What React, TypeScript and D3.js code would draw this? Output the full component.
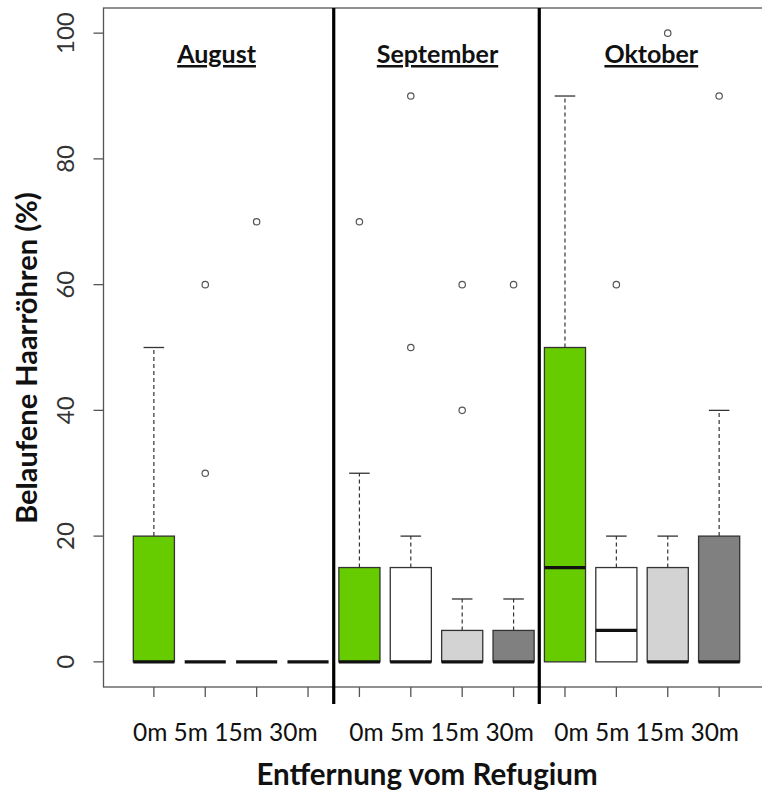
import React, { useEffect, useRef } from "react";
import * as d3 from "d3";

// groups and categories
const months = ["August", "September", "Oktober"];
const distances = ["0m", "5m", "15m", "30m"];
const boxFills = ["#66CC00", "#FFFFFF", "#D3D3D3", "#808080"];

// box statistics, 12 boxes in order Aug 0m..30m, Sep 0m..30m, Okt 0m..30m
const lowerQuartile = [0, 0, 0, 0, 0, 0, 0, 0, 0, 0, 0, 0];
const medians = [0, 0, 0, 0, 0, 0, 0, 0, 15, 5, 0, 0];
const upperQuartile = [20, 0, 0, 0, 15, 15, 5, 5, 50, 15, 15, 20];
const lowerWhisker = [0, 0, 0, 0, 0, 0, 0, 0, 0, 0, 0, 0];
const upperWhisker = [50, 0, 0, 0, 30, 20, 10, 10, 90, 20, 20, 40];
const outliers: number[][] = [
  [], [30, 60], [70], [],
  [70], [50, 90], [40, 60], [60],
  [], [60], [100], [90],
];

const yTicks = [0, 20, 40, 60, 80, 100];
// where the month titles and distance labels sit (in box-position units)
const titlePos = [2.22, 6.52, 10.68];
const labelPos = [2.39, 6.6, 10.59];

const W = 762;
const H = 794;
const FONT = "Lato, 'Open Sans', sans-serif";

const App: React.FC = () => {
  const svgRef = useRef<SVGSVGElement>(null);

  useEffect(() => {
    if (!svgRef.current) return;
    const svg = d3.select(svgRef.current);
    svg.selectAll("*").remove();

    const x = d3.scaleLinear().domain([0.02, 12.98]).range([103.5, 769.5]);
    const y = d3.scaleLinear().domain([-4, 104]).range([687, 8]);
    const boxW = x(1.8) - x(1);
    const capW = boxW / 2;

    const g = svg.append("g");

    // frame (right side runs off the picture)
    g.append("rect")
      .attr("x", x(0.02))
      .attr("y", y(104))
      .attr("width", x(12.98) - x(0.02))
      .attr("height", y(-4) - y(104))
      .attr("fill", "none")
      .attr("stroke", "#555")
      .attr("stroke-width", 1.3);

    // y axis ticks + labels
    yTicks.forEach((t) => {
      g.append("line")
        .attr("x1", x(0.02) - 10)
        .attr("x2", x(0.02))
        .attr("y1", y(t))
        .attr("y2", y(t))
        .attr("stroke", "#555")
        .attr("stroke-width", 1.3);
      g.append("text")
        .attr("transform", `translate(74, ${y(t)}) rotate(-90)`)
        .attr("text-anchor", "middle")
        .attr("font-family", FONT)
        .attr("font-size", 24)
        .attr("fill", "#333")
        .text(t);
    });

    // x ticks
    d3.range(1, 13).forEach((i) => {
      g.append("line")
        .attr("x1", x(i))
        .attr("x2", x(i))
        .attr("y1", y(-4))
        .attr("y2", y(-4) + 10)
        .attr("stroke", "#555")
        .attr("stroke-width", 1.3);
    });

    // boxes
    d3.range(12).forEach((i) => {
      const cx = x(i + 1);
      const fill = boxFills[i % 4];
      // whiskers
      [
        [upperQuartile[i], upperWhisker[i]],
        [lowerQuartile[i], lowerWhisker[i]],
      ].forEach(([from, to]) => {
        if (from === to) return;
        g.append("line")
          .attr("x1", cx)
          .attr("x2", cx)
          .attr("y1", y(from))
          .attr("y2", y(to))
          .attr("stroke", "#333")
          .attr("stroke-width", 1.2)
          .attr("stroke-dasharray", "4,3");
        g.append("line")
          .attr("x1", cx - capW / 2)
          .attr("x2", cx + capW / 2)
          .attr("y1", y(to))
          .attr("y2", y(to))
          .attr("stroke", "#333")
          .attr("stroke-width", 1.3);
      });
      if (upperQuartile[i] > lowerQuartile[i]) {
        g.append("rect")
          .attr("x", cx - boxW / 2)
          .attr("y", y(upperQuartile[i]))
          .attr("width", boxW)
          .attr("height", y(lowerQuartile[i]) - y(upperQuartile[i]))
          .attr("fill", fill)
          .attr("stroke", "#333")
          .attr("stroke-width", 1.3);
      }
      g.append("line")
        .attr("x1", cx - boxW / 2)
        .attr("x2", cx + boxW / 2)
        .attr("y1", y(medians[i]))
        .attr("y2", y(medians[i]))
        .attr("stroke", "#111")
        .attr("stroke-width", 3.2);
      outliers[i].forEach((o) => {
        g.append("circle")
          .attr("cx", cx)
          .attr("cy", y(o))
          .attr("r", 3.2)
          .attr("fill", "none")
          .attr("stroke", "#555")
          .attr("stroke-width", 1.2);
      });
    });

    // month separators
    [4.5, 8.5].forEach((s) => {
      g.append("line")
        .attr("x1", x(s))
        .attr("x2", x(s))
        .attr("y1", y(104))
        .attr("y2", y(-4) + 17)
        .attr("stroke", "#000")
        .attr("stroke-width", 3.2);
    });

    // month titles and distance labels
    months.forEach((m, k) => {
      g.append("text")
        .attr("x", x(titlePos[k]))
        .attr("y", 63)
        .attr("text-anchor", "middle")
        .attr("font-family", FONT)
        .attr("font-weight", "bold")
        .attr("font-size", 25)
        .attr("fill", "#111")
        .style("text-decoration", "underline")
        .text(m);
      g.append("text")
        .attr("x", x(labelPos[k]))
        .attr("y", 741)
        .attr("text-anchor", "middle")
        .attr("font-family", FONT)
        .attr("font-size", 24.5)
        .attr("fill", "#111")
        .text(distances.join(" "));
    });

    // axis titles
    g.append("text")
      .attr("x", 427)
      .attr("y", 785)
      .attr("text-anchor", "middle")
      .attr("font-family", FONT)
      .attr("font-weight", "bold")
      .attr("font-size", 29.5)
      .attr("fill", "#111")
      .text("Entfernung vom Refugium");
    g.append("text")
      .attr("transform", `translate(37, 358) rotate(-90)`)
      .attr("text-anchor", "middle")
      .attr("font-family", FONT)
      .attr("font-weight", "bold")
      .attr("font-size", 29)
      .attr("fill", "#111")
      .text("Belaufene Haarröhren (%)");
  }, []);

  return (
    <svg
      ref={svgRef}
      width={W}
      height={H}
      viewBox={`0 0 ${W} ${H}`}
      style={{ position: "absolute", left: 0, top: 0, background: "#fff" }}
    />
  );
};

export default App;
